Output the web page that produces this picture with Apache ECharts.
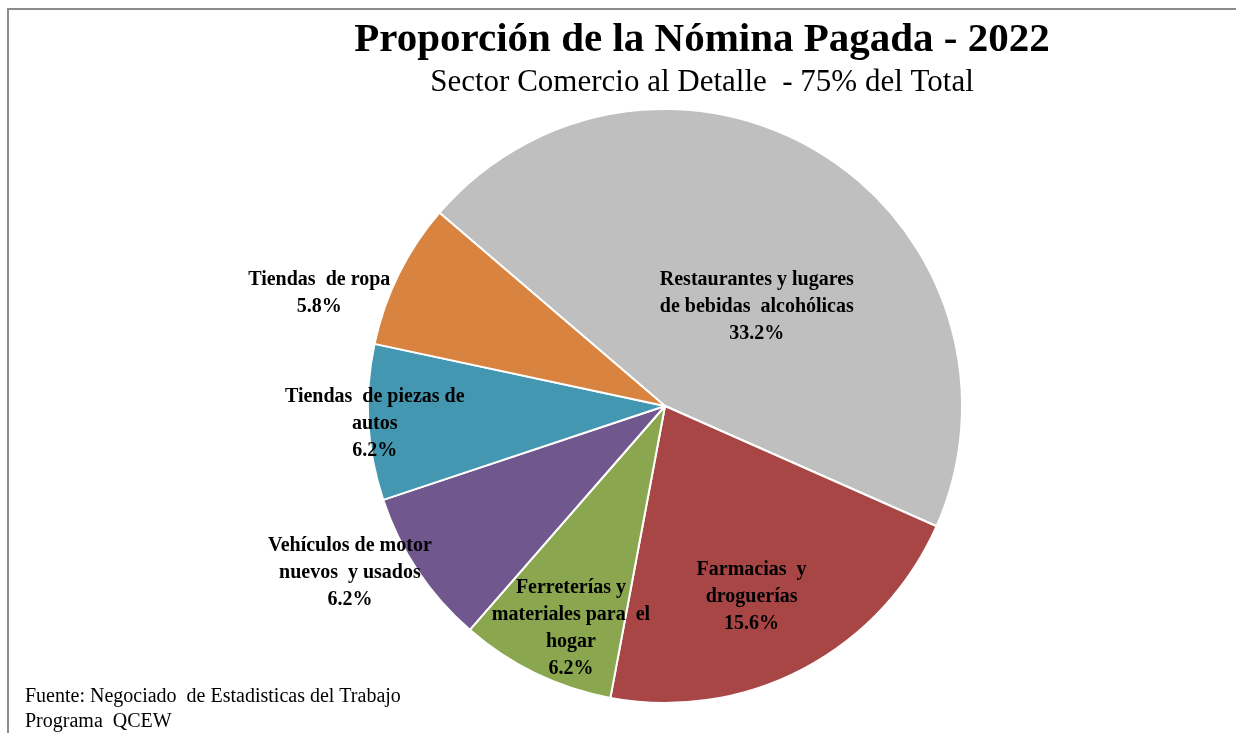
<!DOCTYPE html>
<html>
<head>
<meta charset="utf-8">
<script src="https://cdn.jsdelivr.net/npm/echarts@6/dist/echarts.min.js"></script>
<style>
  html, body { margin: 0; padding: 0; background: #fff; }
  #chart { width: 1236px; height: 733px; }
</style>
</head>
<body>
<div id="chart"></div>
<script>
// Payroll share by retail sub-sector, 2022 (percent of total)
const categories = [
  'Restaurantes y lugares\nde bebidas  alcohólicas',
  'Farmacias  y\ndroguerías',
  'Ferreterías y\nmateriales para  el\nhogar',
  'Vehículos de motor\nnuevos  y usados',
  'Tiendas  de piezas de\nautos',
  'Tiendas  de ropa'
];
const shares = [33.2, 15.6, 6.2, 6.2, 6.2, 5.8];

const sliceColors = ['#bfbfbf', '#a84645', '#8aa64f', '#70578d', '#4397b0', '#d8833f'];
// label nudges from the default inside position, per slice
const labelOffsets = [[11, 29], [16, 57], [-28, 86], [-189, 83], [-139, 9], [-210, -45]];

const SERIF = '"Liberation Serif", "Times New Roman", serif';

const chart = echarts.init(document.getElementById('chart'), null, { renderer: 'canvas' });

chart.setOption({
  animation: false,
  backgroundColor: '#ffffff',
  title: [
    {
      text: 'Proporción de la Nómina Pagada - 2022',
      left: 697, top: 15, textAlign: 'center',
      textStyle: { fontFamily: SERIF, fontWeight: 'bold', fontSize: 41, color: '#000' }
    },
    {
      text: 'Sector Comercio al Detalle  - 75% del Total',
      left: 697, top: 62, textAlign: 'center',
      textStyle: { fontFamily: SERIF, fontWeight: 'normal', fontSize: 31, color: '#000' }
    }
  ],
  graphic: [
    {
      type: 'polyline',
      shape: { points: [[8, 733], [8, 9], [1236, 9]] },
      style: { stroke: '#8c8c8c', lineWidth: 2, fill: null },
      silent: true
    },
    {
      type: 'text',
      left: 25, top: 684,
      style: {
        text: 'Fuente: Negociado  de Estadisticas del Trabajo\nPrograma  QCEW',
        font: '20px ' + SERIF, fill: '#000', lineHeight: 25
      }
    }
  ],
  series: [{
    type: 'pie',
    center: [665, 406],
    radius: 297,
    startAngle: 139.4,
    clockwise: true,
    avoidLabelOverlap: false,
    itemStyle: { borderColor: '#ffffff', borderWidth: 2 },
    label: {
      show: true,
      position: 'inside',
      fontFamily: SERIF,
      fontWeight: 'bold',
      fontSize: 20,
      lineHeight: 27,
      color: '#000',
      align: 'center',
      formatter: p => p.name + '\n' + p.value.toFixed(1) + '%'
    },
    labelLine: { show: false },
    emphasis: { disabled: true },
    data: categories.map((name, i) => ({
      name: name,
      value: shares[i],
      itemStyle: { color: sliceColors[i] },
      label: { offset: labelOffsets[i] }
    }))
  }]
});
</script>
</body>
</html>
